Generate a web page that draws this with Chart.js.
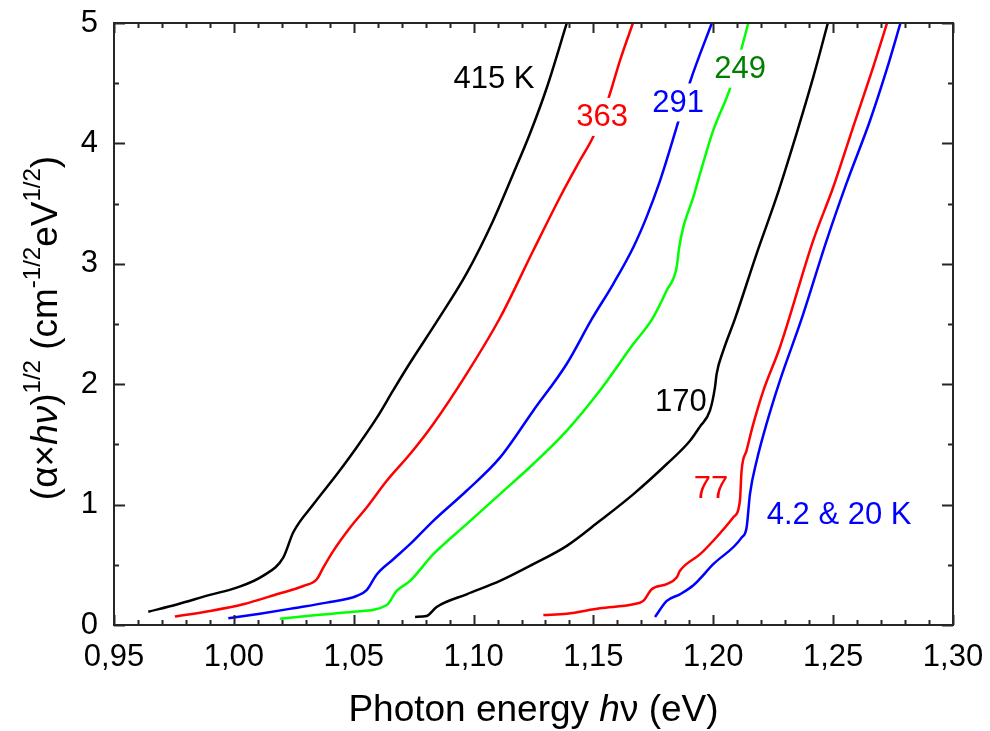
<!DOCTYPE html>
<html>
<head>
<meta charset="utf-8">
<script src="https://cdn.jsdelivr.net/npm/chart.js@4.4.1/dist/chart.umd.min.js"></script>
<style>
  html, body { margin: 0; padding: 0; background: #fff; }
  canvas { display: block; }
</style>
</head>
<body>
<canvas id="chart" width="990" height="731"></canvas>
<script>
// photon energy (eV) and (alpha*hv)^1/2 values, one pair per temperature
const e415 = [0.9643, 0.9762, 0.990, 1.0012, 1.0123, 1.0206, 1.0248, 1.0331, 1.0429, 1.0512, 1.0596, 1.0665, 1.0728, 1.0853, 1.0971, 1.1082, 1.1166, 1.1235, 1.1305, 1.1389];
const a415 = [0.11, 0.17, 0.25, 0.31, 0.41, 0.56, 0.77, 1.00, 1.25, 1.475, 1.72, 1.95, 2.155, 2.54, 2.92, 3.36, 3.75, 4.08, 4.46, 5.0];

const e363 = [0.9754, 0.990, 1.0039, 1.0179, 1.029, 1.0346, 1.0373, 1.0415, 1.0485, 1.0554, 1.0638, 1.0735, 1.0832, 1.0971, 1.111, 1.1249, 1.1361, 1.1444, 1.150, 1.1562, 1.1611, 1.1665];
const a363 = [0.07, 0.116, 0.172, 0.255, 0.324, 0.38, 0.477, 0.616, 0.81, 0.976, 1.198, 1.42, 1.67, 2.086, 2.55, 3.11, 3.555, 3.86, 4.06, 4.37, 4.69, 5.0];

const e291 = [0.9977, 1.0109, 1.0248, 1.0387, 1.0512, 1.0554, 1.0596, 1.0665, 1.0735, 1.0832, 1.0971, 1.111, 1.1249, 1.1389, 1.1493, 1.1583, 1.1667, 1.1722, 1.1778, 1.1854, 1.1903, 1.1994];
const a291 = [0.056, 0.094, 0.139, 0.186, 0.241, 0.289, 0.42, 0.546, 0.671, 0.865, 1.115, 1.39, 1.78, 2.17, 2.54, 2.834, 3.14, 3.39, 3.69, 4.18, 4.51, 5.0];

const e249 = [1.0193, 1.0346, 1.0498, 1.0638, 1.0679, 1.0735, 1.0832, 1.0971, 1.111, 1.1249, 1.1389, 1.1527, 1.1667, 1.1745, 1.1806, 1.1847, 1.1858, 1.1875, 1.1917, 1.1945, 1.2, 1.207, 1.2118, 1.2146];
const a249 = [0.052, 0.083, 0.11, 0.166, 0.283, 0.366, 0.588, 0.838, 1.087, 1.337, 1.614, 1.947, 2.335, 2.54, 2.78, 2.97, 3.14, 3.305, 3.555, 3.75, 4.11, 4.457, 4.79, 5.0];

const e170 = [1.0756, 1.0804, 1.0846, 1.0971, 1.111, 1.1249, 1.1389, 1.1527, 1.1667, 1.1806, 1.1903, 1.1945, 1.1986, 1.2007, 1.2014, 1.2042, 1.209, 1.2181, 1.2264, 1.2347, 1.2417, 1.2478];
const a170 = [0.067, 0.075, 0.15, 0.255, 0.366, 0.505, 0.657, 0.865, 1.087, 1.337, 1.53, 1.65, 1.78, 1.974, 2.086, 2.28, 2.54, 3.085, 3.555, 4.08, 4.55, 5.0];

const e77 = [1.1291, 1.1389, 1.1527, 1.1667, 1.1708, 1.1743, 1.1806, 1.1847, 1.1861, 1.1945, 1.2, 1.2083, 1.2111, 1.2118, 1.2139, 1.2167, 1.2209, 1.2278, 1.2417, 1.2501, 1.2584, 1.2668, 1.2725];
const a77 = [0.083, 0.094, 0.139, 0.172, 0.2, 0.297, 0.339, 0.394, 0.45, 0.588, 0.70, 0.893, 1.03, 1.28, 1.45, 1.67, 1.947, 2.307, 3.195, 3.64, 4.14, 4.64, 5.0];

const e4 = [1.1757, 1.1806, 1.1861, 1.1917, 1.2, 1.2118, 1.2139, 1.2153, 1.2181, 1.2222, 1.2278, 1.2368, 1.2473, 1.2556, 1.2654, 1.2723, 1.2781];
const a4 = [0.067, 0.2, 0.255, 0.33, 0.505, 0.726, 0.81, 1.087, 1.364, 1.67, 2.03, 2.54, 3.195, 3.67, 4.19, 4.61, 5.0];

const xMajorTicks = [0.95, 1.00, 1.05, 1.10, 1.15, 1.20, 1.25, 1.30];
const yMajorTicks = [0, 1, 2, 3, 4, 5];
const xMinorStep = 0.01;
const yMinorStep = 0.5;

// curve labels: text, colour, position in data units, mask the line behind it
const curveLabels = [
    { text: '415 K', color: '#000000', x: 1.1085, y: 4.54, mask: false },
    { text: '363', color: '#ff0000', x: 1.1536, y: 4.22, mask: true },
    { text: '291', color: '#0000ff', x: 1.1853, y: 4.34, mask: true },
    { text: '249', color: '#008000', x: 1.2112, y: 4.62, mask: true },
    { text: '170', color: '#000000', x: 1.1865, y: 1.86, mask: false },
    { text: '77', color: '#ff0000', x: 1.1990, y: 1.13, mask: false },
    { text: '4.2 & 20 K', color: '#0000ff', x: 1.2525, y: 0.915, mask: false }
];

const FONT = "'Liberation Sans', Arial, sans-serif";

function series(e, a, color) {
    return {
        data: e.map((x, i) => ({ x: x, y: a[i] })),
        borderColor: color,
        borderWidth: 2.5,
        pointRadius: 0,
        fill: false,
        cubicInterpolationMode: 'monotone'
    };
}

const framePlugin = {
    id: 'frame',
    afterDraw(chart) {
        const { ctx, chartArea: a, scales: { x, y } } = chart;
        ctx.save();
        ctx.strokeStyle = '#262626';
        ctx.lineWidth = 2;
        ctx.beginPath();
        // minor + major ticks, inward, on all four sides
        for (let v = 0.95; v <= 1.3001; v += xMinorStep) {
            const px = Math.round(x.getPixelForValue(v)) + 0.5;
            const major = xMajorTicks.some(t => Math.abs(t - v) < 1e-6);
            const len = major ? 10 : 5;
            ctx.moveTo(px, a.bottom); ctx.lineTo(px, a.bottom - len);
            ctx.moveTo(px, a.top); ctx.lineTo(px, a.top + len);
        }
        for (let v = 0; v <= 5.0001; v += yMinorStep) {
            const py = Math.round(y.getPixelForValue(v)) + 0.5;
            const major = yMajorTicks.some(t => Math.abs(t - v) < 1e-6);
            const len = major ? 11 : 5;
            ctx.moveTo(a.left, py); ctx.lineTo(a.left + len, py);
            ctx.moveTo(a.right, py); ctx.lineTo(a.right - len, py);
        }
        ctx.stroke();
        ctx.strokeRect(a.left, a.top, a.right - a.left, a.bottom - a.top);
        ctx.restore();
    }
};

const labelPlugin = {
    id: 'curveLabels',
    afterDatasetsDraw(chart) {
        const { ctx, scales: { x, y } } = chart;
        ctx.save();
        ctx.font = '31px ' + FONT;
        ctx.textAlign = 'center';
        ctx.textBaseline = 'middle';
        curveLabels.forEach(l => {
            const px = x.getPixelForValue(l.x), py = y.getPixelForValue(l.y);
            if (l.mask) {
                const w = ctx.measureText(l.text).width;
                ctx.fillStyle = '#fff';
                ctx.fillRect(px - w / 2 - 3, py - 19, w + 6, 38);
            }
            ctx.fillStyle = l.color;
            ctx.fillText(l.text, px, py + 1);
        });
        ctx.restore();
    }
};

function drawRuns(ctx, runs, startX) {
    let cx = startX;
    runs.forEach(r => {
        ctx.font = r.font;
        ctx.fillText(r.t, cx, r.dy || 0);
        cx += ctx.measureText(r.t).width;
    });
}

function runsWidth(ctx, runs) {
    let w = 0;
    runs.forEach(r => { ctx.font = r.font; w += ctx.measureText(r.t).width; });
    return w;
}

const titlePlugin = {
    id: 'titles',
    afterDraw(chart) {
        const { ctx, chartArea: a } = chart;
        ctx.save();
        ctx.fillStyle = '#000';
        ctx.textBaseline = 'alphabetic';
        ctx.textAlign = 'left';

        const xbig = '37px ' + FONT, xital = 'italic 37px ' + FONT;
        const xRuns = [
            { t: 'Photon energy ', font: xbig },
            { t: 'h', font: xital },
            { t: 'ν (eV)', font: xbig }
        ];
        const xw = runsWidth(ctx, xRuns);
        ctx.save();
        ctx.translate((a.left + a.right) / 2, 721);
        drawRuns(ctx, xRuns, -xw / 2);
        ctx.restore();

        const big = '37px ' + FONT, ital = 'italic 37px ' + FONT;
        const sup = '24px ' + FONT;
        const yRuns = [
            { t: '(α×', font: big },
            { t: 'hν', font: ital },
            { t: ')', font: big },
            { t: '1/2', font: sup, dy: -17 },
            { t: ' (cm', font: big },
            { t: '-1/2', font: sup, dy: -17 },
            { t: 'eV', font: big },
            { t: '1/2', font: sup, dy: -17 },
            { t: ')', font: big }
        ];
        const yw = runsWidth(ctx, yRuns);
        ctx.translate(57, 328);
        ctx.rotate(-Math.PI / 2);
        drawRuns(ctx, yRuns, -yw / 2);
        ctx.restore();
    }
};

new Chart(document.getElementById('chart'), {
    type: 'line',
    data: {
        datasets: [
            series(e415, a415, '#000000'),
            series(e363, a363, '#ff0000'),
            series(e291, a291, '#0000ff'),
            series(e249, a249, '#00ff00'),
            series(e170, a170, '#000000'),
            series(e77, a77, '#ff0000'),
            series(e4, a4, '#0000ff')
        ]
    },
    options: {
        responsive: false,
        animation: false,
        layout: { padding: { left: 0, top: 23, right: 37, bottom: 0 } },
        plugins: { legend: { display: false }, tooltip: { enabled: false } },
        scales: {
            x: {
                type: 'linear',
                min: 0.95,
                max: 1.30,
                afterBuildTicks(s) { s.ticks = xMajorTicks.map(v => ({ value: v })); },
                afterFit(s) { s.height = 731 - 625; s.paddingLeft = 0; s.paddingRight = 0; },
                ticks: {
                    color: '#000',
                    font: { family: FONT, size: 31 },
                    padding: 14,
                    maxRotation: 0,
                    autoSkip: false,
                    callback: v => v.toFixed(2).replace('.', ',')
                },
                grid: { display: false, drawTicks: false },
                border: { display: false }
            },
            y: {
                min: 0,
                max: 5,
                afterBuildTicks(s) { s.ticks = yMajorTicks.map(v => ({ value: v })); },
                afterFit(s) { s.width = 114; s.paddingTop = 0; s.paddingBottom = 0; },
                ticks: {
                    color: '#000',
                    font: { family: FONT, size: 31 },
                    padding: 16,
                    callback: v => String(v)
                },
                grid: { display: false, drawTicks: false },
                border: { display: false }
            }
        }
    },
    plugins: [framePlugin, labelPlugin, titlePlugin]
});
</script>
</body>
</html>
